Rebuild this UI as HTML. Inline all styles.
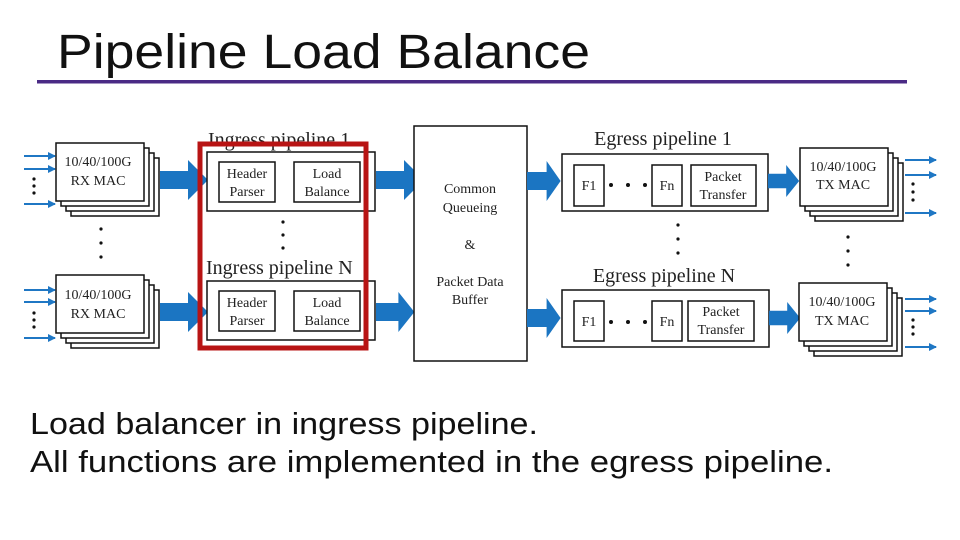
<!DOCTYPE html>
<html><head><meta charset="utf-8"><style>
html,body{margin:0;padding:0;background:#fff;}
svg{display:block;}
.t{font-family:"Liberation Serif",serif;fill:#222;}
</style></head><body>
<svg width="960" height="540" viewBox="0 0 960 540" xmlns="http://www.w3.org/2000/svg">
<defs>
<marker id="ah" markerWidth="8" markerHeight="8" refX="7" refY="4" orient="auto" markerUnits="userSpaceOnUse"><path d="M0,0 L8,4 L0,8 Z" fill="#1f77c4"/></marker>
<g id="stack">
<rect x="15" y="15" width="88" height="58" fill="#fff" stroke="#111" stroke-width="1.5"/>
<rect x="10" y="10" width="88" height="58" fill="#fff" stroke="#111" stroke-width="1.5"/>
<rect x="5" y="5" width="88" height="58" fill="#fff" stroke="#111" stroke-width="1.5"/>
<rect x="0" y="0" width="88" height="58" fill="#fff" stroke="#111" stroke-width="1.5"/>
</g>
<g id="big"><path d="M0,-9 L28,-9 L28,-20 L48,0 L28,20 L28,9 L0,9 Z" fill="#1b75c2"/></g>
</defs>

<text x="57" y="68" font-family="Liberation Sans, sans-serif" font-size="48" fill="#111" textLength="533" lengthAdjust="spacingAndGlyphs">Pipeline Load Balance</text>
<rect x="37" y="80" width="870" height="3.5" fill="#4a2a85"/>

<g stroke="#1f77c4" stroke-width="2" marker-end="url(#ah)">
<line x1="24" y1="156" x2="55" y2="156"/><line x1="24" y1="169" x2="55" y2="169"/><line x1="24" y1="204" x2="55" y2="204"/>
<line x1="24" y1="290" x2="55" y2="290"/><line x1="24" y1="302" x2="55" y2="302"/><line x1="24" y1="338" x2="55" y2="338"/>
</g>
<g fill="#111">
<circle cx="34" cy="179" r="1.6"/><circle cx="34" cy="186" r="1.6"/><circle cx="34" cy="193" r="1.6"/>
<circle cx="34" cy="313" r="1.6"/><circle cx="34" cy="320" r="1.6"/><circle cx="34" cy="327" r="1.6"/>
<circle cx="101" cy="229" r="1.6"/><circle cx="101" cy="243" r="1.6"/><circle cx="101" cy="257" r="1.6"/>
</g>
<use href="#stack" x="56" y="143"/>
<use href="#stack" x="56" y="275"/>
<text class="t" font-size="14" text-anchor="middle" x="98" y="166">10/40/100G</text>
<text class="t" font-size="14" text-anchor="middle" x="98" y="185">RX MAC</text>
<text class="t" font-size="14" text-anchor="middle" x="98" y="299">10/40/100G</text>
<text class="t" font-size="14" text-anchor="middle" x="98" y="318">RX MAC</text>

<use href="#big" x="160" y="180"/>
<use href="#big" x="160" y="312"/>

<text class="t" font-size="20" x="208" y="146">Ingress pipeline 1</text>
<rect x="207" y="152" width="168" height="59" fill="#fff" stroke="#111" stroke-width="1.5"/>
<rect x="219" y="162" width="56" height="40" fill="#fff" stroke="#111" stroke-width="1.5"/>
<rect x="294" y="162" width="66" height="40" fill="#fff" stroke="#111" stroke-width="1.5"/>
<text class="t" font-size="14" text-anchor="middle" x="247" y="178">Header</text>
<text class="t" font-size="14" text-anchor="middle" x="247" y="196">Parser</text>
<text class="t" font-size="14" text-anchor="middle" x="327" y="178">Load</text>
<text class="t" font-size="14" text-anchor="middle" x="327" y="196">Balance</text>
<g fill="#111"><circle cx="283" cy="222" r="1.6"/><circle cx="283" cy="235" r="1.6"/><circle cx="283" cy="248" r="1.6"/></g>
<text class="t" font-size="20" x="206" y="274">Ingress pipeline N</text>
<rect x="207" y="281" width="168" height="59" fill="#fff" stroke="#111" stroke-width="1.5"/>
<rect x="219" y="291" width="56" height="40" fill="#fff" stroke="#111" stroke-width="1.5"/>
<rect x="294" y="291" width="66" height="40" fill="#fff" stroke="#111" stroke-width="1.5"/>
<text class="t" font-size="14" text-anchor="middle" x="247" y="307">Header</text>
<text class="t" font-size="14" text-anchor="middle" x="247" y="325">Parser</text>
<text class="t" font-size="14" text-anchor="middle" x="327" y="307">Load</text>
<text class="t" font-size="14" text-anchor="middle" x="327" y="325">Balance</text>
<rect x="200" y="144" width="166" height="204" fill="none" stroke="#b81414" stroke-width="5"/>

<use href="#big" x="376" y="180"/>
<g transform="translate(376,312) scale(0.8,1)"><path d="M0,-9 L28,-9 L28,-20 L48,0 L28,20 L28,9 L0,9 Z" fill="#1b75c2"/></g>

<rect x="414" y="126" width="113" height="235" fill="#fff" stroke="#111" stroke-width="1.5"/>
<text class="t" font-size="14" text-anchor="middle" x="470" y="193">Common</text>
<text class="t" font-size="14" text-anchor="middle" x="470" y="212">Queueing</text>
<text class="t" font-size="14" text-anchor="middle" x="470" y="249">&amp;</text>
<text class="t" font-size="14" text-anchor="middle" x="470" y="286">Packet Data</text>
<text class="t" font-size="14" text-anchor="middle" x="470" y="304">Buffer</text>

<g transform="translate(527,181) scale(0.7,1)"><path d="M0,-9 L28,-9 L28,-20 L48,0 L28,20 L28,9 L0,9 Z" fill="#1b75c2"/></g>
<g transform="translate(527,318) scale(0.7,1)"><path d="M0,-9 L28,-9 L28,-20 L48,0 L28,20 L28,9 L0,9 Z" fill="#1b75c2"/></g>

<text class="t" font-size="20" text-anchor="middle" x="663" y="145">Egress pipeline 1</text>
<rect x="562" y="154" width="206" height="57" fill="#fff" stroke="#111" stroke-width="1.5"/>
<rect x="574" y="165" width="30" height="41" fill="#fff" stroke="#111" stroke-width="1.5"/>
<rect x="652" y="165" width="30" height="41" fill="#fff" stroke="#111" stroke-width="1.5"/>
<rect x="691" y="165" width="65" height="41" fill="#fff" stroke="#111" stroke-width="1.5"/>
<text class="t" font-size="14" text-anchor="middle" x="589" y="190">F1</text>
<text class="t" font-size="14" text-anchor="middle" x="667" y="190">Fn</text>
<text class="t" font-size="14" text-anchor="middle" x="723" y="181">Packet</text>
<text class="t" font-size="14" text-anchor="middle" x="723" y="199">Transfer</text>
<text class="t" font-size="20" text-anchor="middle" x="664" y="282">Egress pipeline N</text>
<rect x="562" y="290" width="207" height="57" fill="#fff" stroke="#111" stroke-width="1.5"/>
<rect x="574" y="301" width="30" height="40" fill="#fff" stroke="#111" stroke-width="1.5"/>
<rect x="652" y="301" width="30" height="40" fill="#fff" stroke="#111" stroke-width="1.5"/>
<rect x="688" y="301" width="66" height="40" fill="#fff" stroke="#111" stroke-width="1.5"/>
<text class="t" font-size="14" text-anchor="middle" x="589" y="326">F1</text>
<text class="t" font-size="14" text-anchor="middle" x="667" y="326">Fn</text>
<text class="t" font-size="14" text-anchor="middle" x="721" y="316">Packet</text>
<text class="t" font-size="14" text-anchor="middle" x="721" y="334">Transfer</text>
<g fill="#111"><circle cx="611" cy="185" r="2"/><circle cx="628" cy="185" r="2"/><circle cx="645" cy="185" r="2"/>
<circle cx="611" cy="322" r="2"/><circle cx="628" cy="322" r="2"/><circle cx="645" cy="322" r="2"/>
<circle cx="678" cy="225" r="1.6"/><circle cx="678" cy="239" r="1.6"/><circle cx="678" cy="253" r="1.6"/>
<circle cx="848" cy="237" r="1.6"/><circle cx="848" cy="251" r="1.6"/><circle cx="848" cy="265" r="1.6"/></g>

<g transform="translate(768,181) scale(0.65,0.8)"><path d="M0,-9 L28,-9 L28,-20 L48,0 L28,20 L28,9 L0,9 Z" fill="#1b75c2"/></g>
<g transform="translate(769,318) scale(0.65,0.8)"><path d="M0,-9 L28,-9 L28,-20 L48,0 L28,20 L28,9 L0,9 Z" fill="#1b75c2"/></g>

<use href="#stack" x="800" y="148"/>
<use href="#stack" x="799" y="283"/>
<text class="t" font-size="14" text-anchor="middle" x="843" y="171">10/40/100G</text>
<text class="t" font-size="14" text-anchor="middle" x="843" y="189">TX MAC</text>
<text class="t" font-size="14" text-anchor="middle" x="842" y="306">10/40/100G</text>
<text class="t" font-size="14" text-anchor="middle" x="842" y="325">TX MAC</text>
<g stroke="#1f77c4" stroke-width="2" marker-end="url(#ah)">
<line x1="905" y1="160" x2="936" y2="160"/><line x1="905" y1="175" x2="936" y2="175"/><line x1="905" y1="213" x2="936" y2="213"/>
<line x1="905" y1="299" x2="936" y2="299"/><line x1="905" y1="311" x2="936" y2="311"/><line x1="905" y1="347" x2="936" y2="347"/>
</g>
<g fill="#111">
<circle cx="913" cy="184" r="1.6"/><circle cx="913" cy="192" r="1.6"/><circle cx="913" cy="200" r="1.6"/>
<circle cx="913" cy="320" r="1.6"/><circle cx="913" cy="327" r="1.6"/><circle cx="913" cy="334" r="1.6"/>
</g>

<text x="30" y="434" font-family="Liberation Sans, DejaVu Sans, sans-serif" font-size="31" fill="#111" textLength="508" lengthAdjust="spacingAndGlyphs">Load balancer in ingress pipeline.</text>
<text x="30" y="472" font-family="Liberation Sans, DejaVu Sans, sans-serif" font-size="31" fill="#111" textLength="803" lengthAdjust="spacingAndGlyphs">All functions are implemented in the egress pipeline.</text>
</svg>
</body></html>
